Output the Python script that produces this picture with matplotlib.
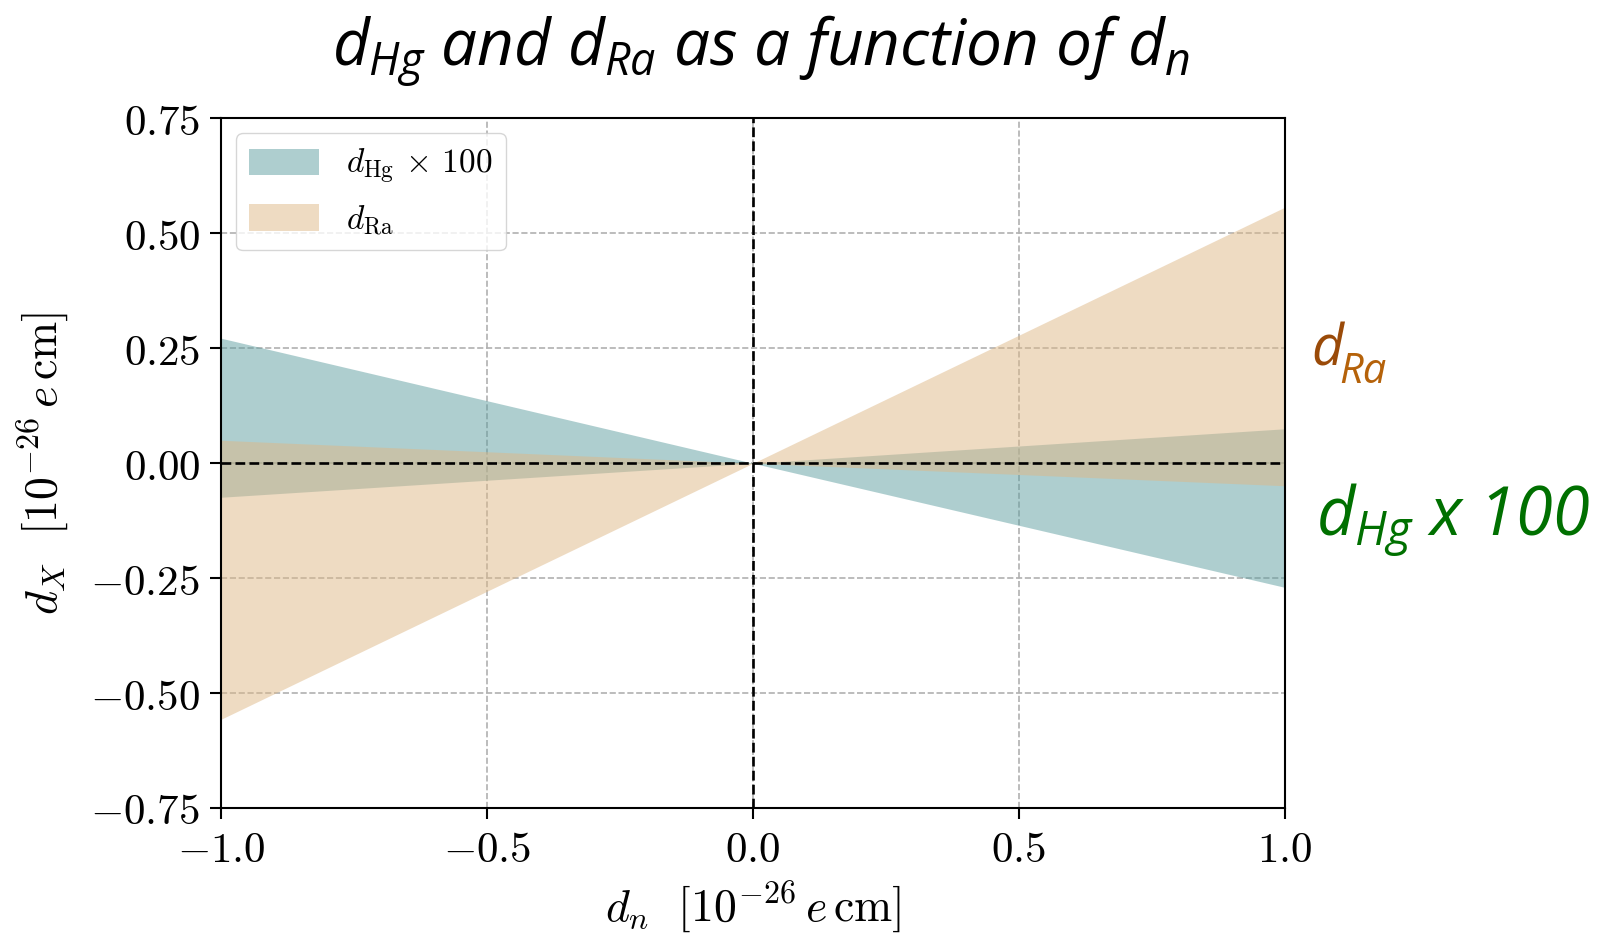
import matplotlib
matplotlib.use("Agg")
import matplotlib.pyplot as plt
from matplotlib.ticker import FixedLocator, FixedFormatter

# ---- data ----
dn = [-1.0, 0.0, 1.0]
hg_edge_a = [0.272, 0.0, -0.270]
hg_edge_b = [-0.074, 0.0, 0.075]
ra_edge_a = [-0.557, 0.0, 0.557]
ra_edge_b = [0.050, 0.0, -0.049]

xticks = [-1.0, -0.5, 0.0, 0.5, 1.0]
xtick_labels = [r"$-1.0$", r"$-0.5$", r"$0.0$", r"$0.5$", r"$1.0$"]
yticks = [-0.75, -0.50, -0.25, 0.0, 0.25, 0.50, 0.75]
ytick_labels = [r"$-0.75$", r"$-0.50$", r"$-0.25$", r"$0.00$", r"$0.25$", r"$0.50$", r"$0.75$"]

plt.rcParams["mathtext.fontset"] = "cm"
TFONT = "Open Sans"

fig = plt.figure(figsize=(16.02, 9.33), dpi=100)
ax = fig.add_axes([0.138, 0.134, 0.664, 0.739])

ax.fill_between(dn, hg_edge_a, hg_edge_b, color="cadetblue", alpha=0.5, lw=0,
                label=r"$d_{\mathrm{Hg}}\,\times\,100$")
ax.fill_between(dn, ra_edge_a, ra_edge_b, color="burlywood", alpha=0.5, lw=0,
                label=r"$d_{\mathrm{Ra}}$")

ax.axhline(0, color="black", ls="--", lw=1.9, zorder=3)
ax.axvline(0, color="black", ls="--", lw=1.9, zorder=3)

ax.set_xlim(-1, 1)
ax.set_ylim(-0.75, 0.75)
ax.xaxis.set_major_locator(FixedLocator(xticks))
ax.xaxis.set_major_formatter(FixedFormatter(xtick_labels))
ax.yaxis.set_major_locator(FixedLocator(yticks))
ax.yaxis.set_major_formatter(FixedFormatter(ytick_labels))
ax.tick_params(labelsize=31, length=8, width=1.5, direction="out")
ax.tick_params(axis="y", pad=7)
ax.tick_params(axis="x", pad=7)
ax.grid(True, ls="--", color="#b0b0b0", lw=1.2)
ax.set_axisbelow(True)
for s in ax.spines.values():
    s.set_linewidth(1.5)

ax.set_xlabel(r"$d_n\ \ [10^{-26}\,e\,\mathrm{cm}]$", fontsize=33, labelpad=6)
ax.set_ylabel(r"$d_X\ \ [10^{-26}\,e\,\mathrm{cm}]$", fontsize=33, labelpad=14)

leg = ax.legend(loc="upper left", fontsize=24, handlelength=2.1, handleheight=0.85,
                framealpha=0.8, edgecolor="#cccccc", borderaxespad=0.45)

# ---- title & side annotations (custom sans italic math) ----
plt.rcParams["mathtext.it"] = TFONT + ":italic"
plt.rcParams["mathtext.rm"] = TFONT + ":italic"
plt.rcParams["mathtext.cal"] = TFONT + ":italic"
plt.rcParams["mathtext.sf"] = TFONT + ":italic"

fig.text(0.475, 0.929, r"$d_{Hg}$ and $d_{Ra}$ as a function of $d_n$",
         ha="center", va="baseline", fontsize=46, family=TFONT, style="italic",
         math_fontfamily="custom")

fig.text(0.8185, 0.608, "d", ha="left", va="baseline", fontsize=40, family=TFONT,
         style="italic", color="#9a4a08")
fig.text(0.8357, 0.589, "Ra", ha="left", va="baseline", fontsize=30, family=TFONT,
         style="italic", color="#b5620a")

fig.text(0.8215, 0.426, r"$d_{Hg}$ x 100", ha="left", va="baseline", fontsize=48,
         family=TFONT, style="italic", color="#007000", math_fontfamily="custom")

fig.savefig("out.png", dpi=100)
